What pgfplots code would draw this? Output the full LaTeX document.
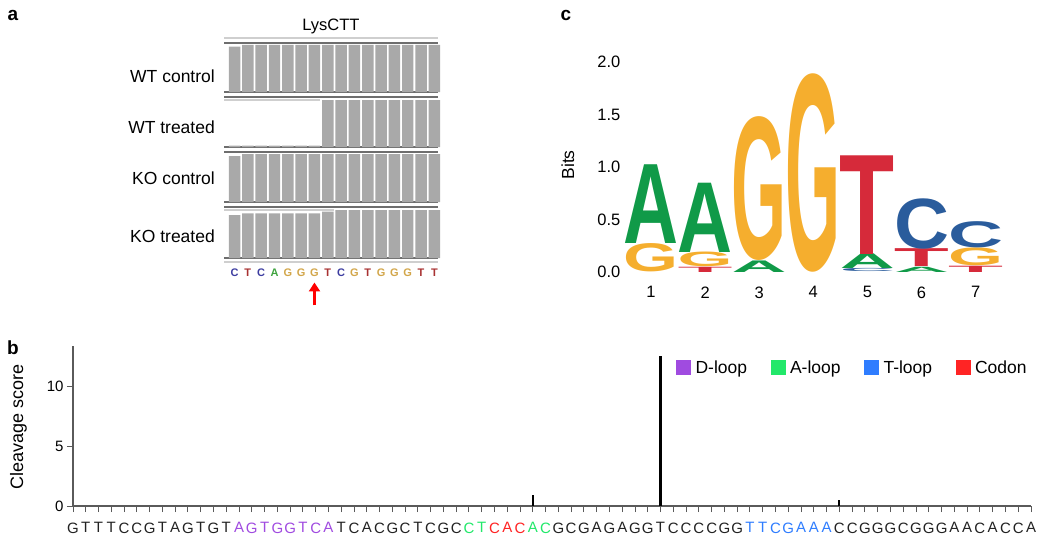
\documentclass[border=0pt]{standalone}
\usepackage{fontspec}
\setmainfont{Liberation Sans}
\usepackage{graphicx}
\usepackage{pgfplots}
\pgfplotsset{compat=1.18}
\usepackage{pgfplotstable}
\usetikzlibrary{arrows.meta}

% colours
\definecolor{barg}{HTML}{A9A9A9}
\definecolor{lineg}{HTML}{6E6E6E}
\definecolor{lightg}{HTML}{CFCFCF}
\definecolor{axg}{HTML}{5A5A5A}
\definecolor{seqk}{HTML}{222222}
\definecolor{sA}{HTML}{3FA33F}
\definecolor{sC}{HTML}{3C3CA0}
\definecolor{sG}{HTML}{D2A64A}
\definecolor{sT}{HTML}{A83232}
\definecolor{dloop}{HTML}{A04BE0}
\definecolor{aloop}{HTML}{22E86A}
\definecolor{tloop}{HTML}{2F7DFF}
\definecolor{codon}{HTML}{FF2424}
\definecolor{lgA}{HTML}{109A48}
\definecolor{lgC}{HTML}{2A5C9C}
\definecolor{lgG}{HTML}{F5AE2E}
\definecolor{lgT}{HTML}{D62A3A}

\newcommand{\fs}[1]{\fontsize{#1}{#1}\selectfont}
\newcommand{\Dl}[1]{\textcolor{dloop}{#1}}
\newcommand{\Al}[1]{\textcolor{aloop}{#1}}
\newcommand{\Tl}[1]{\textcolor{tloop}{#1}}
\newcommand{\Co}[1]{\textcolor{codon}{#1}}

% sequence logo: base and height (bits) of each letter
\pgfplotstableread{
pos base h
1 0.27 0.75
2 0.19 0.66
3 0.00 0.11
5 0.03 0.14
6 0.00 0.05
}\logoA
\pgfplotstableread{
pos base h
1 0.00 0.27
2 0.05 0.14
3 0.11 1.37
4 0.00 1.89
7 0.06 0.17
}\logoG
\pgfplotstableread{
pos base h
2 0.00 0.05
5 0.17 0.94
6 0.05 0.17
7 0.00 0.06
}\logoT
\pgfplotstableread{
pos base h
5 0.00 0.03
6 0.22 0.48
7 0.23 0.25
}\logoC

\newcommand{\logoletter}[2]{%
  \pgfmathsetlengthmacro\lh{\pgfplotspointmeta*105}%
  \textcolor{#2}{\resizebox*{55pt}{\lh}{\fs{40}\bfseries #1}}}

\pgfplotsset{
  track/.style={anchor=south west, scale only axis, width=214pt,
    xmin=0.21, xmax=16.27, ymin=0, ymax=1,
    separate axis lines, x axis line style={draw=lineg, line width=2pt},
    y axis line style={draw=none},
    xtick=\empty, ytick=\empty, clip=false},
  logo/.style 2 args={draw=none, mark=none,
    point meta=explicit symbolic,
    nodes near coords={\logoletter{#1}{#2}},
    nodes near coords align={anchor=south},
    every node near coord/.append style={anchor=south, inner sep=0pt, outer sep=0pt}},
}

\begin{document}
\begin{tikzpicture}
\useasboundingbox (0,0) rectangle (1050pt,-544pt);

% ---------- panel a ----------
\node[font=\fs{19}\bfseries, anchor=center] at (13pt,-15pt) {a};

\begin{axis}[track, at={(224pt,-92pt)}, height=49pt,
  title={LysCTT}, title style={font=\fs{16.5}}]
\addplot[ybar, bar width=0.86, fill=barg, draw=none] coordinates {
(1,0.925)(2,0.96)(3,0.96)(4,0.96)(5,0.96)(6,0.96)(7,0.96)(8,0.96)
(9,0.96)(10,0.96)(11,0.96)(12,0.96)(13,0.96)(14,0.96)(15,0.96)(16,0.96)};
\draw[lightg, line width=2pt] ([yshift=5pt]axis description cs:0,1) -- ([yshift=5pt]axis description cs:1,1);
\node[anchor=east, inner sep=0pt, font=\fs{17.5}] at (axis description cs:-0.042,0.327) {WT control};
\end{axis}

\begin{axis}[track, at={(224pt,-147pt)}, height=50pt]
\addplot[ybar, bar width=0.86, fill=barg, draw=none] coordinates {
(1,0.03)(2,0.03)(3,0.03)(4,0.03)(5,0.03)(6,0.03)(7,0.03)(8,0.94)
(9,0.94)(10,0.94)(11,0.94)(12,0.94)(13,0.94)(14,0.94)(15,0.94)(16,0.94)};
\addplot[lightg, line width=1.2pt] coordinates {(0.21,0.94) (7.43,0.94)};
\node[anchor=east, inner sep=0pt, font=\fs{17.5}] at (axis description cs:-0.042,0.40) {WT treated};
\end{axis}

\begin{axis}[track, at={(224pt,-202pt)}, height=50pt]
\addplot[ybar, bar width=0.86, fill=barg, draw=none] coordinates {
(1,0.92)(2,0.96)(3,0.96)(4,0.96)(5,0.96)(6,0.96)(7,0.96)(8,0.96)
(9,0.96)(10,0.96)(11,0.96)(12,0.96)(13,0.96)(14,0.96)(15,0.96)(16,0.96)};
\node[anchor=east, inner sep=0pt, font=\fs{17.5}] at (axis description cs:-0.042,0.48) {KO control};
\end{axis}

\begin{axis}[track, at={(224pt,-258pt)}, height=51pt,
  xtick={1,...,16}, major tick length=0pt,
  xticklabels={\textcolor{sC}{C},\textcolor{sT}{T},\textcolor{sC}{C},\textcolor{sA}{A},
    \textcolor{sG}{G},\textcolor{sG}{G},\textcolor{sG}{G},\textcolor{sT}{T},
    \textcolor{sC}{C},\textcolor{sG}{G},\textcolor{sT}{T},\textcolor{sG}{G},
    \textcolor{sG}{G},\textcolor{sG}{G},\textcolor{sT}{T},\textcolor{sT}{T}},
  xticklabel style={font=\fs{11}\bfseries, yshift=-7pt}]
\addplot[ybar, bar width=0.86, fill=barg, draw=none] coordinates {
(1,0.84)(2,0.876)(3,0.876)(4,0.876)(5,0.876)(6,0.876)(7,0.876)(8,0.91)
(9,0.94)(10,0.94)(11,0.94)(12,0.94)(13,0.94)(14,0.94)(15,0.94)(16,0.94)};
\addplot[lightg, line width=1.2pt] coordinates {(0.21,0.94) (8.43,0.94)};
\addplot[red, line width=2.3pt, -{Triangle[length=9pt, width=11pt]}] coordinates {(7,-0.93) (7,-0.48)};
\draw[lightg, line width=1.5pt] ([yshift=-4pt]axis description cs:0,0) -- ([yshift=-4pt]axis description cs:1,0);
\node[anchor=east, inner sep=0pt, font=\fs{17.5}] at (axis description cs:-0.042,0.418) {KO treated};
\end{axis}

% ---------- panel c ----------
\node[font=\fs{19}\bfseries, anchor=center] at (566pt,-15pt) {c};

\begin{axis}[at={(623.95pt,-272pt)}, anchor=south west, scale only axis,
  width=378.7pt, height=210pt,
  xmin=0.5, xmax=7.5, ymin=0, ymax=2,
  axis lines=left, axis line style={draw=none}, major tick length=0pt,
  xtick={1,...,7}, xticklabels={1,2,3,4,5,6,7},
  ytick={0,0.5,1,1.5,2}, yticklabels={0.0,0.5,1.0,1.5,2.0},
  xticklabel style={font=\fs{16.5}, yshift=-11pt},
  yticklabel style={font=\fs{16.5}},
  ylabel={Bits}, ylabel style={font=\fs{17.5}, anchor=center,
    at={(axis description cs:-0.148,0.51)}},
  clip=false]
\addplot[logo={G}{lgG}] table[x=pos, y=base, meta=h] {\logoG};
\addplot[logo={A}{lgA}] table[x=pos, y=base, meta=h] {\logoA};
\addplot[logo={T}{lgT}] table[x=pos, y=base, meta=h] {\logoT};
\addplot[logo={C}{lgC}] table[x=pos, y=base, meta=h] {\logoC};
\end{axis}

% ---------- panel b ----------
\node[font=\fs{19}\bfseries, anchor=center] at (13pt,-348pt) {b};

\begin{axis}[at={(73pt,-506pt)}, anchor=south west, scale only axis,
  width=958pt, height=159.9pt,
  xmin=1, xmax=76, ymin=0, ymax=13.4,
  axis lines=left, axis line style={-, draw=axg, line width=1.2pt},
  tick align=outside, major tick length=6pt,
  tick style={draw=axg, line width=1pt},
  xtick={1,...,76},
  xticklabels={G,T,T,T,C,C,G,T,A,G,T,G,T,
    \Dl{A},\Dl{G},\Dl{T},\Dl{G},\Dl{G},\Dl{T},\Dl{C},\Dl{A},
    T,C,A,C,G,C,T,C,G,C,
    \Al{C},\Al{T},\Co{C},\Co{A},\Co{C},\Al{A},\Al{C},
    G,C,G,A,G,A,G,G,T,C,C,C,C,G,G,
    \Tl{T},\Tl{T},\Tl{C},\Tl{G},\Tl{A},\Tl{A},\Tl{A},
    C,C,G,G,G,C,G,G,G,A,A,C,A,C,C,A},
  ytick={0,5,10}, yticklabels={0,5,10},
  xticklabel style={font=\fs{15}, text=seqk, yshift=-7pt},
  yticklabel style={font=\fs{15}},
  ylabel={Cleavage score}, ylabel style={font=\fs{18}, anchor=center,
    at={(axis description cs:-0.057,0.494)}},
  legend columns=4,
  legend image code/.code={\fill[#1] (0pt,-7pt) rectangle (14pt,7pt);},
  legend style={draw=none, fill=none, font=\fs{17.5},
    at={(axis description cs:1.004,0.955)}, anchor=north east,
    nodes={inner sep=5pt},
    /tikz/every even column/.append style={column sep=18.5pt}},
  clip=false]
\addlegendimage{dloop}\addlegendentry{D-loop}
\addlegendimage{aloop}\addlegendentry{A-loop}
\addlegendimage{tloop}\addlegendentry{T-loop}
\addlegendimage{codon}\addlegendentry{Codon}
\addplot[ycomb, black, line width=2.6pt, mark=none, forget plot] coordinates {(47,12.6)};
\addplot[ycomb, black, line width=2pt, mark=none, forget plot] coordinates {(37,0.9) (61,0.5)};
\end{axis}
\end{tikzpicture}
\end{document}
